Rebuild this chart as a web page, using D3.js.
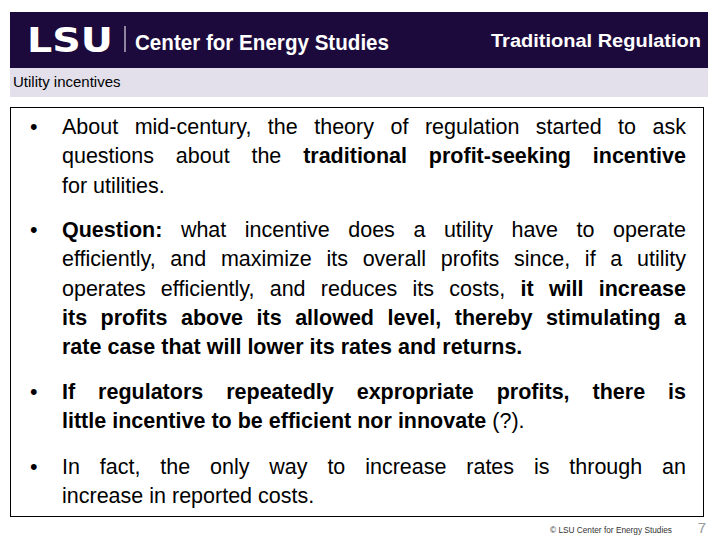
<!DOCTYPE html>
<html><head><meta charset="utf-8">
<script src="https://cdn.jsdelivr.net/npm/d3@7"></script>
<style>body{margin:0;background:#fff}</style>
</head><body>
<script>
// slide text, one entry per rendered line; flag 1 marks bold segments
const headerTitle = "Traditional Regulation";
const subTitle = "Utility incentives";
const footerText = "© LSU Center for Energy Studies";
const pageNumber = "7";
const bullets = [
  [[["About mid-century, the theory of regulation started to ask", 0]],
   [["questions about the ", 0], ["traditional profit-seeking incentive", 1]],
   [["for utilities.", 0]]],
  [[["Question:", 1], [" what incentive does a utility have to operate", 0]],
   [["efficiently, and maximize its overall profits since, if a utility", 0]],
   [["operates efficiently, and reduces its costs, ", 0], ["it will increase", 1]],
   [["its profits above its allowed level, thereby stimulating a", 1]],
   [["rate case that will lower its rates and returns.", 1]]],
  [[["If regulators repeatedly expropriate profits, there is", 1]],
   [["little incentive to be efficient nor innovate", 1], [" (?).", 0]]],
  [[["In fact, the only way to increase rates is through an", 0]],
   [["increase in reported costs.", 0]]]
];
const bulletTops = [134, 237, 399, 474];

const svg = d3.select("body").append("svg").attr("width", 720).attr("height", 540);

svg.append("rect").attr("x", 10).attr("y", 12).attr("width", 698).attr("height", 56).attr("fill", "#1d0a3d");
svg.append("rect").attr("x", 10).attr("y", 68).attr("width", 698).attr("height", 29).attr("fill", "#e3e0ec");
svg.append("text").attr("x", 27).attr("y", 52).attr("fill", "#fff").attr("font-family", "DejaVu Sans")
  .attr("font-weight", "bold").attr("font-size", 33).attr("textLength", 86).attr("lengthAdjust", "spacingAndGlyphs").text("LSU");
svg.append("line").attr("x1", 125).attr("x2", 125).attr("y1", 26).attr("y2", 52).attr("stroke", "#fff");
svg.append("text").attr("x", 135).attr("y", 50).attr("fill", "#fff").attr("font-family", "Liberation Sans Narrow, Liberation Sans")
  .attr("font-weight", "bold").attr("font-size", 22).attr("textLength", 254).attr("lengthAdjust", "spacingAndGlyphs").text("Center for Energy Studies");
svg.append("text").attr("x", 701).attr("y", 47).attr("text-anchor", "end").attr("fill", "#fff")
  .attr("font-family", "Liberation Sans").attr("font-weight", "bold").attr("font-size", 18)
  .attr("textLength", 210).attr("lengthAdjust", "spacingAndGlyphs").text(headerTitle);
svg.append("text").attr("x", 13).attr("y", 87).attr("font-family", "Liberation Sans").attr("font-size", 15).text(subTitle);
svg.append("rect").attr("x", 10.5).attr("y", 107.5).attr("width", 693).attr("height", 409).attr("fill", "none").attr("stroke", "#000");

const left = 62, right = 686, lineH = 29.3;
const g = svg.append("g").attr("font-family", "Liberation Sans, Arial").attr("font-size", 21.5).attr("fill", "#000");
bullets.forEach((para, pi) => {
  const top = bulletTops[pi];
  g.append("text").attr("x", 30).attr("y", top).text("•");
  para.forEach((line, li) => {
    const y = top + li * lineH;
    const items = [];
    line.forEach(([s, b]) => s.split(" ").forEach((w, k) => {
      if (k > 0 && items.length) items.push(null);
      if (!w) return;
      if (items.length && items[items.length - 1] !== null) items[items.length - 1].push([w, b]);
      else items.push([[w, b]]);
    }));
    const groups = items.filter(d => d !== null);
    const nodes = groups.map(grp => {
      const t = g.append("text").attr("y", y);
      grp.forEach(([w, b]) => t.append("tspan").attr("font-weight", b ? "bold" : null).text(w));
      return t;
    });
    const widths = nodes.map(n => n.node().getComputedTextLength());
    const total = d3.sum(widths);
    const last = li === para.length - 1;
    const space = 6;
    let gap = last || nodes.length < 2 ? space : (right - left - total) / (nodes.length - 1);
    let x = left;
    nodes.forEach((n, i) => { n.attr("x", x); x += widths[i] + gap; });
  });
});

svg.append("text").attr("x", 672).attr("y", 533).attr("text-anchor", "end").attr("font-family", "Liberation Sans")
  .attr("font-size", 8.5).attr("fill", "#333").attr("textLength", 122).attr("lengthAdjust", "spacingAndGlyphs").text(footerText);
svg.append("text").attr("x", 706).attr("y", 533).attr("text-anchor", "end").attr("font-family", "Liberation Sans")
  .attr("font-size", 15).attr("fill", "#999").text(pageNumber);
</script>
</body></html>
